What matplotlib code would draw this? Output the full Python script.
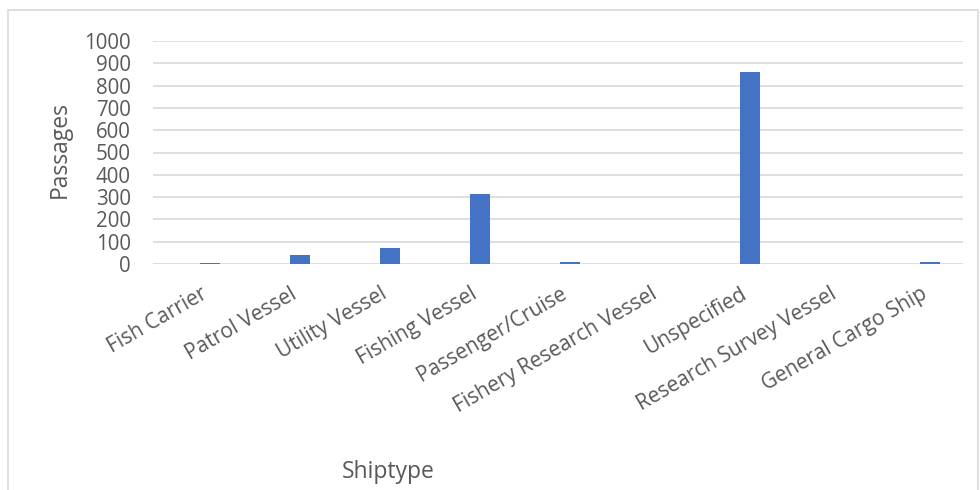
import numpy as np
import matplotlib as mpl
mpl.use('Agg')
import matplotlib.pyplot as plt
import matplotlib.transforms as mtrans
from matplotlib.patches import Rectangle

# Passages per ship type
shiptypes = ['Fish Carrier', 'Patrol Vessel', 'Utility Vessel', 'Fishing Vessel',
             'Passenger/Cruise', 'Fishery Research Vessel', 'Unspecified',
             'Research Survey Vessel', 'General Cargo Ship']
passages = [3, 40, 72, 312, 8, 0, 860, 0, 8]
yticks = np.arange(0, 1001, 100)

plt.rcParams['font.family'] = ['Open Sans', 'DejaVu Sans']
txt = '#595959'
grid = '#d9d9d9'

fig = plt.figure(figsize=(9.8, 4.9), dpi=100)
W, H = 980, 490
ax = fig.add_axes([153/W, 1-264/H, (963-153)/W, (264-41)/H])

x = np.arange(len(shiptypes))
ax.bar(x, passages, width=0.22, color='#4472C4', zorder=3)
ax.set_xlim(-0.633, len(shiptypes) - 0.633)
ax.set_ylim(0, 1000)
ax.set_yticks(yticks)
ax.set_yticklabels([str(v) for v in yticks], fontsize=14.8, color=txt)
ax.yaxis.grid(True, color=grid, lw=1.2, zorder=0)
ax.set_xticks(x)
ax.set_xticklabels(shiptypes, rotation=30, ha='right', rotation_mode='anchor',
                   fontsize=15, color=txt)
ax.tick_params(axis='both', length=0)
ax.tick_params(axis='y', pad=16)
ax.tick_params(axis='x', pad=14)
# nudge the slanted labels left, like Excel does
shift = mtrans.ScaledTranslation(-10/100, 0, fig.dpi_scale_trans)
for lab in ax.get_xticklabels():
    lab.set_transform(lab.get_transform() + shift)
for s in ax.spines.values():
    s.set_visible(False)

fig.text(60/W, 1-150/H, 'Passages', rotation=90, ha='center', va='center',
         fontsize=16.5, color=txt)
fig.text(388/W, 1-472/H, 'Shiptype', ha='center', va='center',
         fontsize=16.5, color=txt)

# chart area border
fig.add_artist(Rectangle((8/W, -0.05), (978-8)/W, 1-10/H+0.05,
                         transform=fig.transFigure, fill=False,
                         edgecolor=grid, lw=1.2))

plt.savefig('out.png', dpi=100)
